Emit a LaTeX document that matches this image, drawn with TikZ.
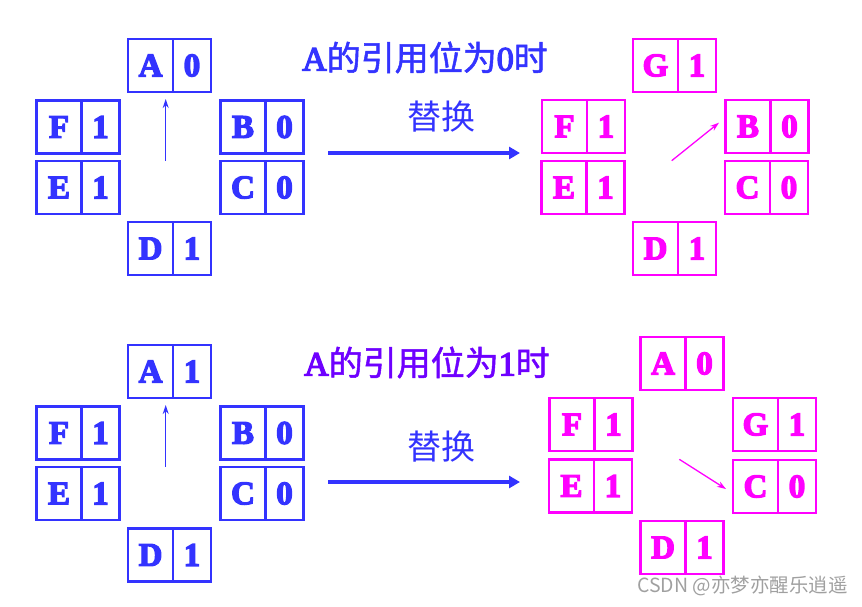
\documentclass[tikz,border=0pt]{standalone}
\usepackage{fontspec}
\setmainfont{Liberation Serif}
\newfontfamily\cjk{Noto Sans CJK SC}
\usetikzlibrary{arrows.meta}
\definecolor{cblue}{RGB}{51,51,255}
\definecolor{cmag}{RGB}{255,0,255}
\definecolor{cpur}{RGB}{110,0,255}
\definecolor{cgrey}{RGB}{160,160,160}
\newcommand\fb[2]{\special{pdf:literal direct 2 Tr #1 w}#2\special{pdf:literal direct 0 Tr}}
\tikzset{
  cellbox/.style={draw, line width=2.3pt, minimum height=53pt, inner sep=0pt,
    font=\fontsize{33}{33}\selectfont\bfseries},
  letterbox/.style={cellbox, minimum width=45pt},
  valbox/.style={cellbox, minimum width=38pt},
  bluecell/.style={draw=cblue, text=cblue},
  magcell/.style={draw=cmag, text=cmag},
  small arrow/.style={line width=1.3pt, -{Stealth[length=9pt,width=6pt]}},
  big arrow/.style={draw=cblue, line width=4.5pt, -{Triangle[length=11pt,width=12pt]}},
  title/.style={font=\fontsize{34}{34}\selectfont},
  swaplabel/.style={text=cblue, font=\cjk\fontsize{34}{34}\selectfont},
}
\newcommand\cellpair[6]{%
  \node[letterbox,#6] (#1) at (#2,#3) {\fb{1.3}{#4}};
  \node[valbox,#6] (#1v) at ([xshift=41.5pt]#1.center) {\fb{1.3}{#5}};
}
\newcommand\titletext[1]{\fb{1.3}{A}\fb{0.5}{{\cjk 的引用位为}}\fb{1.3}{#1}\fb{0.5}{{\cjk 时}}}
\begin{document}
\begin{tikzpicture}[x=1pt,y=-1pt]
\useasboundingbox (0,0) rectangle (862,606);
% ---- top left
\cellpair{tlA}{150.5}{65.5}{A}{0}{bluecell}
\cellpair{tlF}{59}{127}{F}{1}{bluecell}
\cellpair{tlE}{59}{187.5}{E}{1}{bluecell}
\cellpair{tlB}{243}{127}{B}{0}{bluecell}
\cellpair{tlC}{243}{187.5}{C}{0}{bluecell}
\cellpair{tlD}{150.5}{248.5}{D}{1}{bluecell}
\coordinate (tls) at (165.7,160.7);
\coordinate (tle) at (165.7,99);
\draw[small arrow, cblue] (tls) -- (tle);
% ---- top middle
\node[title, text=cblue] (t1) at (425,57.5) {\titletext{0}};
\node[swaplabel] (sw1) at (441,117) {替换};
\coordinate (a1s) at (328,153);
\coordinate (a1e) at (520,153);
\draw[big arrow] (a1s) -- (a1e);
% ---- top right
\cellpair{trG}{655.5}{65.5}{G}{1}{magcell}
\cellpair{trF}{564.5}{126.5}{F}{1}{magcell}
\cellpair{trE}{564}{187.5}{E}{1}{magcell}
\cellpair{trB}{748}{126.5}{B}{0}{magcell}
\cellpair{trC}{747.5}{187.5}{C}{0}{magcell}
\cellpair{trD}{655.5}{248.5}{D}{1}{magcell}
\coordinate (trs) at (671.7,160.7);
\coordinate (tre) at (719,122.7);
\draw[small arrow, cmag] (trs) -- (tre);
% ---- bottom left
\cellpair{blA}{150.5}{371.5}{A}{1}{bluecell}
\cellpair{blF}{59}{433}{F}{1}{bluecell}
\cellpair{blE}{59}{493.5}{E}{1}{bluecell}
\cellpair{blB}{243}{433}{B}{0}{bluecell}
\cellpair{blC}{243}{493.5}{C}{0}{bluecell}
\cellpair{blD}{150.5}{555}{D}{1}{bluecell}
\coordinate (bls) at (165.7,466.7);
\coordinate (ble) at (165.7,405);
\draw[small arrow, cblue] (bls) -- (ble);
% ---- bottom middle
\node[title, text=cpur] (t2) at (427,362.5) {\titletext{1}};
\node[swaplabel] (sw2) at (441,447) {替换};
\coordinate (a2s) at (328,482);
\coordinate (a2e) at (520,482);
\draw[big arrow] (a2s) -- (a2e);
% ---- bottom right
\cellpair{brA}{663}{363.5}{A}{0}{magcell}
\cellpair{brF}{572}{424.5}{F}{1}{magcell}
\cellpair{brE}{571.5}{486}{E}{1}{magcell}
\cellpair{brG}{755.5}{424.5}{G}{1}{magcell}
\cellpair{brC}{755.5}{486.5}{C}{0}{magcell}
\cellpair{brD}{663}{547.5}{D}{1}{magcell}
\coordinate (brs) at (679.3,459.3);
\coordinate (bre) at (726,489);
\draw[small arrow, cmag] (brs) -- (bre);
% ---- watermark
\node[anchor=east, text=cgrey, font=\cjk\fontsize{19.5}{19.5}\selectfont, inner sep=0pt] (wm) at (848,586) {CSDN @亦梦亦醒乐逍遥};
\end{tikzpicture}
\end{document}
